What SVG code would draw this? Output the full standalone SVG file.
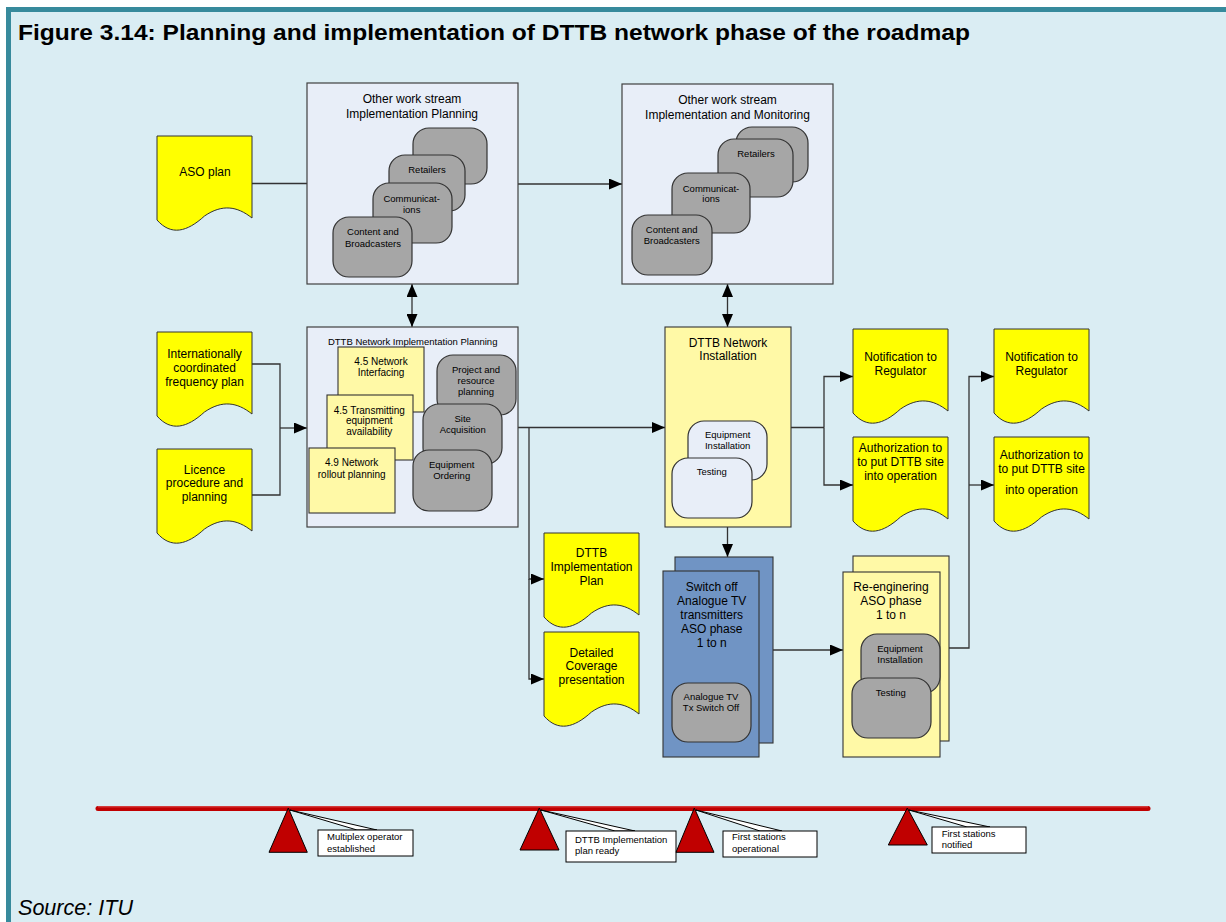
<svg xmlns="http://www.w3.org/2000/svg" xmlns:xlink="http://www.w3.org/1999/xlink" width="1226" height="922" viewBox="0 0 1226 922">
<style>
.doc{fill:#ffff00;stroke:#333;stroke-width:1}
.box{fill:#e8eef8;stroke:#404040;stroke-width:1.2}
.lt{fill:#fff9a6;stroke:#333;stroke-width:1.1}
.gr{fill:#a6a6a6;stroke:#333;stroke-width:1.2}
.lav{fill:#e8eef8;stroke:#333;stroke-width:1.2}
.blue{fill:#7094c4;stroke:#333;stroke-width:1.1}
text{font-family:"Liberation Sans",Arial,sans-serif;fill:#000}
.t12{font-size:12px;text-anchor:middle}
.t10{font-size:10px;text-anchor:middle}
.t9{font-size:9.5px;text-anchor:middle}
.tc{font-size:9.5px}
.conn{stroke:#333;stroke-width:1.3;fill:none}
.arr{marker-end:url(#ah)}
.tri{fill:#c00000;stroke:#000;stroke-width:1}
.call{fill:#fff;stroke:#000;stroke-width:1}
</style>
<defs>
<marker id="ah" markerUnits="userSpaceOnUse" markerWidth="13" markerHeight="11" refX="13" refY="5.5" orient="auto-start-reverse" viewBox="0 0 13 11"><path d="M0,0L13,5.5L0,11Z" fill="#000"/></marker>
<path id="docshape" class="doc" d="M0,0H95V82C80,70 65,68 47.5,80C30,96 14,100 0,84Z"/>
</defs>
<rect x="0" y="0" width="1226" height="922" fill="#fff"/>
<rect x="6" y="7" width="1220" height="915" fill="#daedf3"/>
<rect x="6" y="7" width="1220" height="5" fill="#378a9c"/>
<rect x="6" y="7" width="5" height="915" fill="#378a9c"/>
<text x="18" y="40" font-size="22" font-weight="bold" textLength="952" lengthAdjust="spacingAndGlyphs">Figure 3.14: Planning and implementation of DTTB network phase of the roadmap</text>
<text x="18" y="915" font-size="22" font-style="italic" textLength="115" lengthAdjust="spacingAndGlyphs">Source: ITU</text>

<g id="connectors">
<path class="conn" d="M252,183.5H307"/>
<path class="conn arr" d="M518,184H622"/>
<path class="conn arr" style="marker-start:url(#ah)" d="M412,284V327"/>
<path class="conn arr" style="marker-start:url(#ah)" d="M727.5,284V327"/>
<path class="conn" d="M252,364H280V495H252"/>
<path class="conn arr" d="M280,428H307"/>
<path class="conn arr" d="M518,427.5H665"/>
<path class="conn arr" d="M529,427.5V579H544"/>
<path class="conn arr" d="M529,579V679H544"/>
<path class="conn" d="M791,427.5H824"/>
<path class="conn arr" d="M824,427.5V376.5H853"/>
<path class="conn arr" d="M824,427.5V485H853"/>
<path class="conn arr" d="M727.5,527V557"/>
<path class="conn arr" d="M773,650H843"/>
<path class="conn arr" d="M949,648H969V376.5H994"/>
<path class="conn arr" d="M969,485H994"/>
</g>

<g id="aso-plan">
<use xlink:href="#docshape" x="157" y="136"/>
<text class="t12" x="205" y="176">ASO plan</text>
</g>

<g id="freq-plan">
<use xlink:href="#docshape" x="157" y="332"/>
<text class="t12" x="204.5" y="357.6">Internationally</text>
<text class="t12" x="204.5" y="372">coordinated</text>
<text class="t12" x="204.5" y="386">frequency plan</text>
</g>

<g id="licence">
<use xlink:href="#docshape" x="157" y="449"/>
<text class="t12" x="204.5" y="473.6">Licence</text>
<text class="t12" x="204.5" y="487.3">procedure and</text>
<text class="t12" x="204.5" y="501">planning</text>
</g>

<g id="ows-planning">
<rect class="box" x="307" y="83" width="211" height="201"/>
<text class="t12" x="412" y="102.6">Other work stream</text>
<text class="t12" x="412" y="117.6">Implementation Planning</text>
<rect class="gr" x="413" y="128" width="74" height="56" rx="16"/>
<rect class="gr" x="389" y="155" width="76" height="56" rx="16"/>
<text class="t9" x="427" y="172.7">Retailers</text>
<rect class="gr" x="373" y="183" width="79" height="60" rx="16"/>
<text class="t9" x="411.7" y="201.7">Communicat-</text>
<text class="t9" x="411.7" y="212.7">ions</text>
<rect class="gr" x="333" y="217" width="79" height="60" rx="16"/>
<text class="t9" x="373" y="235.1">Content and</text>
<text class="t9" x="373" y="246.7">Broadcasters</text>
</g>

<g id="ows-monitoring">
<rect class="box" x="622" y="84" width="211" height="200"/>
<text class="t12" x="727.5" y="104.3">Other work stream</text>
<text class="t12" x="727.5" y="118.6">Implementation and Monitoring</text>
<rect class="gr" x="736" y="127" width="72" height="55" rx="16"/>
<rect class="gr" x="718" y="139" width="75" height="58" rx="16"/>
<text class="t9" x="756" y="156.7">Retailers</text>
<rect class="gr" x="672" y="173" width="78" height="60" rx="16"/>
<text class="t9" x="711" y="191.7">Communicat-</text>
<text class="t9" x="711" y="202.4">ions</text>
<rect class="gr" x="632" y="215" width="80" height="60" rx="16"/>
<text class="t9" x="671.7" y="233.4">Content and</text>
<text class="t9" x="671.7" y="244.4">Broadcasters</text>
</g>

<g id="dttb-impl-planning">
<rect class="box" x="307" y="327" width="211" height="200"/>
<text class="t9" x="412.7" y="345">DTTB Network Implementation Planning</text>
<rect class="lt" x="338" y="347" width="86" height="65"/>
<text class="t10" x="381" y="365.1">4.5 Network</text>
<text class="t10" x="381" y="376.1">Interfacing</text>
<rect class="lt" x="327" y="395" width="86" height="65"/>
<text class="t10" x="369.3" y="413.6">4.5 Transmitting</text>
<text class="t10" x="369.3" y="424.3">equipment</text>
<text class="t10" x="369.3" y="435.3">availability</text>
<rect class="lt" x="309" y="448" width="86" height="65"/>
<text class="t10" x="351.7" y="466.3">4.9 Network</text>
<text class="t10" x="351.7" y="477.6">rollout planning</text>
<rect class="gr" x="437" y="355" width="79" height="60" rx="16"/>
<text class="t9" x="476" y="373.4">Project and</text>
<text class="t9" x="476" y="384.1">resource</text>
<text class="t9" x="476" y="395.1">planning</text>
<rect class="gr" x="423" y="404" width="79" height="60" rx="16"/>
<text class="t9" x="462.7" y="422.4">Site</text>
<text class="t9" x="462.7" y="433.4">Acquisition</text>
<rect class="gr" x="413" y="450" width="79" height="61" rx="16"/>
<text class="t9" x="451.7" y="468.4">Equipment</text>
<text class="t9" x="451.7" y="479.4">Ordering</text>
</g>

<g id="dttb-installation">
<rect class="lt" x="665" y="327" width="126" height="200"/>
<text class="t12" x="728" y="347">DTTB Network</text>
<text class="t12" x="728" y="360.3">Installation</text>
<rect class="lav" x="688" y="421" width="79" height="59" rx="16"/>
<text class="t9" x="727.7" y="438.4">Equipment</text>
<text class="t9" x="727.7" y="449.4">Installation</text>
<rect class="lav" x="672" y="458" width="80" height="60" rx="16"/>
<text class="t9" x="711.7" y="475.1">Testing</text>
</g>

<g id="dttb-impl-plan">
<use xlink:href="#docshape" x="544" y="533"/>
<text class="t12" x="591.5" y="557">DTTB</text>
<text class="t12" x="591.5" y="571">Implementation</text>
<text class="t12" x="591.5" y="585">Plan</text>
</g>

<g id="coverage">
<use xlink:href="#docshape" x="544" y="632"/>
<text class="t12" x="591.5" y="657">Detailed</text>
<text class="t12" x="591.5" y="670.3">Coverage</text>
<text class="t12" x="591.5" y="683.6">presentation</text>
</g>

<g id="notif-1">
<use xlink:href="#docshape" x="853" y="329"/>
<text class="t12" x="900.5" y="361">Notification to</text>
<text class="t12" x="900.5" y="375">Regulator</text>
</g>

<g id="auth-1">
<use xlink:href="#docshape" x="853" y="437"/>
<text class="t12" x="900.5" y="452">Authorization to</text>
<text class="t12" x="900.5" y="466">to put DTTB site</text>
<text class="t12" x="900.5" y="480">into operation</text>
</g>

<g id="notif-2">
<use xlink:href="#docshape" x="994" y="329"/>
<text class="t12" x="1041.5" y="361">Notification to</text>
<text class="t12" x="1041.5" y="375">Regulator</text>
</g>

<g id="auth-2">
<use xlink:href="#docshape" x="994" y="437"/>
<text class="t12" x="1041.5" y="459.3">Authorization to</text>
<text class="t12" x="1041.5" y="472.6">to put DTTB site</text>
<text class="t12" x="1041.5" y="494.3">into operation</text>
</g>

<g id="switch-off">
<rect class="blue" x="675" y="557" width="98" height="186"/>
<rect class="blue" x="663" y="571" width="96" height="186"/>
<text class="t12" x="711.7" y="591">Switch off</text>
<text class="t12" x="711.7" y="605">Analogue TV</text>
<text class="t12" x="711.7" y="619">transmitters</text>
<text class="t12" x="711.7" y="633">ASO phase</text>
<text class="t12" x="711.7" y="647">1 to n</text>
<rect class="gr" x="672" y="683" width="79" height="59" rx="16"/>
<text class="t9" x="711" y="700.1">Analogue TV</text>
<text class="t9" x="711" y="710.7">Tx Switch Off</text>
</g>

<g id="re-engineering">
<rect class="lt" x="853" y="556" width="96" height="185"/>
<rect class="lt" x="843" y="572" width="97" height="185"/>
<text class="t12" x="891" y="591">Re-enginering</text>
<text class="t12" x="891" y="605.3">ASO phase</text>
<text class="t12" x="891" y="619.3">1 to n</text>
<rect class="gr" x="861" y="634" width="79" height="59" rx="16"/>
<text class="t9" x="900" y="651.7">Equipment</text>
<text class="t9" x="900" y="662.7">Installation</text>
<rect class="gr" x="852" y="678" width="79" height="60" rx="16"/>
<text class="t9" x="890.7" y="696.1">Testing</text>
</g>

<g id="timeline">
<line x1="98" y1="808.5" x2="1148" y2="808.5" stroke="#c00000" stroke-width="5" stroke-linecap="round"/>
<line x1="98" y1="806.8" x2="1148" y2="806.8" stroke="#e46a6a" stroke-width="0.8"/>
</g>

<g id="milestone-1">
<polygon class="tri" points="288.3,808 269,852.3 307.3,852.3"/>
<polygon class="call" stroke-width="0.8" points="290,810 357,830 377,830"/>
<rect class="call" x="318" y="830" width="95" height="26"/>
<text class="tc" x="327" y="840.1">Multiplex operator</text>
<text class="tc" x="327" y="851.7">established</text>
</g>

<g id="milestone-2">
<polygon class="tri" points="539.3,808 520,850 559,850"/>
<polygon class="call" stroke-width="0.8" points="541,810 615,831 635,831"/>
<rect class="call" x="566" y="831" width="110" height="31"/>
<text class="tc" x="575" y="843.4">DTTB Implementation</text>
<text class="tc" x="575" y="854.1">plan ready</text>
</g>

<g id="milestone-3">
<polygon class="tri" points="694.3,808 676,852.3 714,852.3"/>
<polygon class="call" stroke-width="0.8" points="696,810 760,831 782,831"/>
<rect class="call" x="723" y="831" width="94" height="26"/>
<text class="tc" x="732" y="840.1">First stations</text>
<text class="tc" x="732" y="851.7">operational</text>
</g>

<g id="milestone-4">
<polygon class="tri" points="907.3,808 888.3,845 927.3,845"/>
<polygon class="call" stroke-width="0.8" points="909,810 967,827 990,827"/>
<rect class="call" x="932" y="827" width="94" height="26"/>
<text class="tc" x="941.7" y="837.1">First stations</text>
<text class="tc" x="941.7" y="847.7">notified</text>
</g>
</svg>
